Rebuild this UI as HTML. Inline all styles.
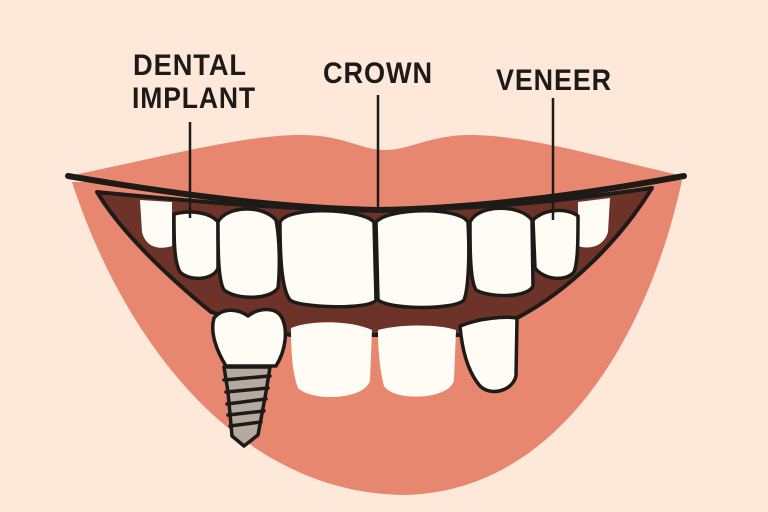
<!DOCTYPE html>
<html><head><meta charset="utf-8"><style>
html,body{margin:0;padding:0;background:#fde8da;}
svg{display:block}
text{font-family:"Liberation Sans",sans-serif;font-size:30px;font-weight:bold;fill:#1e1a18;letter-spacing:1px}
</style></head><body>
<svg width="768" height="512" viewBox="0 0 768 512">
<rect width="768" height="512" fill="#fde8da"/>
<!-- lower lip -->
<path d="M72,182 C120,330 230,490 400,495 C560,495 650,330 682,180 Z" fill="#e8876f"/>
<!-- upper lip -->
<path d="M68,176 C150,160 240,135 300,135 C345,135 360,150 385,150 C410,150 430,135 470,135 C530,135 610,160 684,176 C560,195 470,205 378,208 C280,205 180,195 68,176 Z" fill="#e8876f"/>
<!-- mouth interior -->
<path d="M97,192 C180,200 280,210 378,210 C480,210 570,200 652,188 C620,240 570,290 517,318 L480,335 L290,335 L211,312 C160,270 120,230 97,192 Z" fill="#6e3328" stroke="#1e1a18" stroke-width="4" stroke-linejoin="round"/>
<g fill="#fffcf5" stroke="#1e1a18" stroke-width="3.5" stroke-linejoin="round">
<!-- upper teeth -->
<path d="M140,200 L172,202 L172,246 C160,250 146,248 142,232 Z" stroke="none"/>
<path d="M578,202 L610,198 L608,232 C604,246 590,250 578,246 Z" stroke="none"/>
<path d="M174,214 C190,210 210,212 218,222 L218,268 C214,280 190,282 180,272 C174,262 174,240 174,214 Z"/>
<path d="M218,222 C226,206 262,204 276,220 C280,240 280,270 278,288 C270,300 236,300 224,290 C218,280 218,250 218,222 Z"/>
<path d="M280,222 C288,206 360,208 374,222 L376,300 C370,310 300,308 290,300 C282,290 280,260 280,222 Z"/>
<path d="M376,222 C388,208 458,206 468,222 C470,260 468,290 464,300 C455,310 390,310 378,300 Z"/>
<path d="M470,222 C478,204 520,204 532,220 L533,286 C528,298 490,298 476,290 C470,280 470,250 470,222 Z"/>
<path d="M533,220 C545,208 568,208 578,216 C578,240 578,262 574,272 C566,282 544,280 535,268 Z"/>
<!-- lower teeth -->
<path d="M291,328 C310,320 350,320 372,330 L370,380 C366,400 312,402 298,388 C292,372 291,350 291,328 Z" stroke="none"/>
<path d="M378,330 C400,324 438,324 456,330 L454,380 C450,400 394,402 384,386 C380,372 378,350 378,330 Z" stroke="none"/>
<path d="M460,326 C480,318 505,316 517,318 L516,376 C512,392 490,396 480,386 C468,372 462,350 460,326 Z"/>
<!-- implant crown -->
<path d="M214,318 C224,306 240,310 248,316 C258,308 276,306 282,318 C288,330 286,350 276,366 L226,366 C216,350 210,332 214,318 Z"/>
</g>
<!-- implant screw -->
<path d="M224,367 L270,367 L266,392 L258,435 L244,446 L232,436 L228,392 Z" fill="#b5aaa0" stroke="#1e1a18" stroke-width="3.5" stroke-linejoin="round"/>
<g stroke="#1e1a18" stroke-width="3.5" stroke-linecap="round">
<line x1="224" y1="380" x2="270" y2="376"/>
<line x1="226" y1="392" x2="268" y2="388"/>
<line x1="227" y1="404" x2="266" y2="399"/>
<line x1="228" y1="415" x2="264" y2="411"/>
<line x1="230" y1="426" x2="261" y2="422"/>
</g>
<!-- mouth line -->
<path d="M68,176 C180,195 280,208 378,210 C480,208 580,195 684,176" fill="none" stroke="#1e1a18" stroke-width="6" stroke-linecap="round"/>
<!-- leader lines -->
<g stroke="#1e1a18" stroke-width="2.5">
<line x1="190" y1="122" x2="190" y2="218"/>
<line x1="378" y1="95" x2="378" y2="207"/>
<line x1="553" y1="98" x2="553" y2="220"/>
</g>
<text x="190" y="75" text-anchor="middle" textLength="114" lengthAdjust="spacingAndGlyphs">DENTAL</text>
<text x="194" y="108" text-anchor="middle" textLength="124" lengthAdjust="spacingAndGlyphs">IMPLANT</text>
<text x="378" y="83" text-anchor="middle" textLength="110" lengthAdjust="spacingAndGlyphs">CROWN</text>
<text x="554" y="90" text-anchor="middle" textLength="116" lengthAdjust="spacingAndGlyphs">VENEER</text>
</svg>
</body></html>
